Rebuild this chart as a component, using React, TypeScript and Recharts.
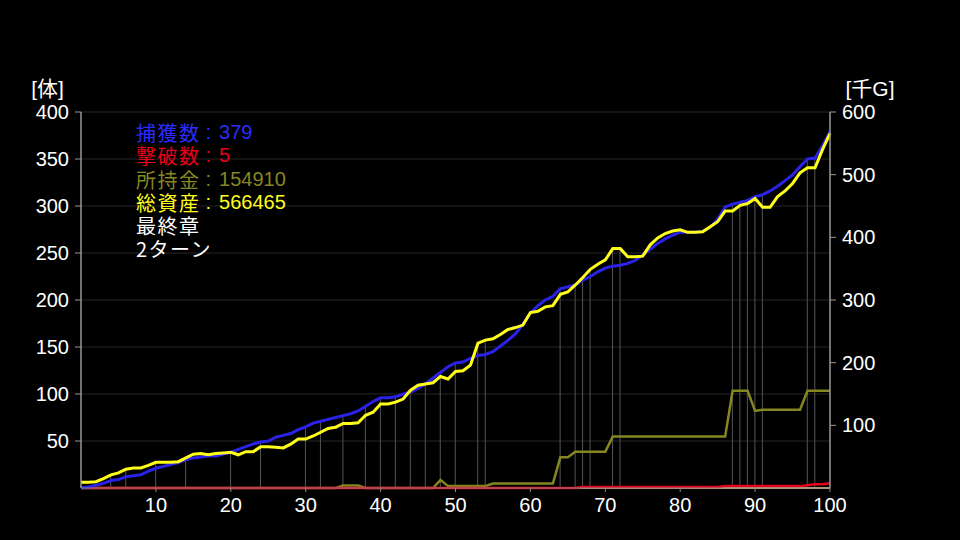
import {
  Bar,
  CartesianGrid,
  ComposedChart,
  Line,
  ReferenceLine,
  XAxis,
  YAxis,
} from "recharts";

// turn index 0..100
const turns = Array.from({ length: 101 }, (_, i) => i);

// 捕獲数 [体]
const captured = [
  0, 1, 3, 5, 8, 9, 12, 13, 14, 18, 21, 23, 25, 27, 30, 32, 33, 34, 34, 36,
  38, 41, 44, 47, 49, 50, 54, 56, 58, 62, 65, 69, 71, 73, 75, 77, 79, 82, 87,
  92, 96, 96, 97, 100, 102, 106, 111, 117, 123, 129, 133, 134, 138, 141, 142,
  145, 151, 157, 164, 174, 186, 194, 200, 204, 212, 214, 216, 221, 225, 230,
  234, 236, 237, 239, 242, 248, 254, 260, 265, 269, 272, 272, 272, 273, 277,
  286, 299, 302, 304, 306, 310, 312, 316, 321, 327, 333, 342, 350, 351, 364,
  379,
];

// 撃破数 [体]
const defeated = [
  0, 0, 0, 0, 0, 0, 0, 0, 0, 0, 0, 0, 0, 0, 0, 0, 0, 0, 0, 0, 0, 0, 0, 0, 0,
  0, 0, 0, 0, 0, 0, 0, 0, 0, 0, 0, 0, 0, 0, 0, 0, 0, 0, 0, 0, 0, 0, 0, 0, 0,
  0, 0, 0, 0, 0, 0, 0, 0, 0, 0, 0, 0, 0, 0, 0, 0, 0, 1, 1, 1, 1, 1, 1, 1, 1,
  1, 1, 1, 1, 1, 1, 1, 1, 1, 1, 1, 2, 2, 2, 2, 2, 2, 2, 2, 2, 2, 2, 3, 4, 4,
  5,
];

// 所持金 [千G]
const money = [
  0, 0, 0, 0, 0, 0, 0, 0, 0, 0, 0, 0, 0, 0, 0, 0, 0, 0, 0, 0, 0, 0, 0, 0, 0,
  0, 0, 0, 0, 0, 0, 0, 0, 0, 0, 4, 4, 4, 0, 0, 0, 0, 0, 0, 0, 0, 0, 0, 13, 3,
  3, 3, 3, 3, 3, 7, 7, 7, 7, 7, 7, 7, 7, 7, 49, 49, 58, 58, 58, 58, 58, 82, 82,
  82, 82, 82, 82, 82, 82, 82, 82, 82, 82, 82, 82, 82, 82, 155, 155, 155, 123,
  125, 125, 125, 125, 125, 125, 155, 155, 155, 155,
];

// 総資産 [千G]
const assets = [
  9, 9, 10, 15, 21, 24, 30, 32, 32, 36, 41, 41, 41, 42, 48, 54, 55, 53, 55, 56,
  57, 53, 58, 58, 66, 66, 65, 64, 70, 78, 78, 83, 89, 95, 97, 103, 103, 104,
  116, 121, 134, 134, 137, 142, 156, 164, 166, 168, 178, 174, 186, 187, 196,
  231, 236, 238, 245, 253, 256, 260, 280, 282, 289, 291, 309, 313, 324, 336,
  349, 357, 364, 382, 382, 369, 369, 370, 388, 399, 406, 410, 412, 408, 408,
  409, 417, 425, 442, 442, 451, 454, 462, 448, 448, 465, 474, 486, 503, 511,
  511, 540, 566,
];

// turns with a marker line
const events = [
  4, 6, 10, 14, 20, 24, 30, 32, 35, 38, 40, 42, 44, 46, 48, 50, 53, 54, 64, 66,
  67, 68, 71, 72, 87, 88, 89, 90, 91, 97, 98,
];

const leftTicks = [50, 100, 150, 200, 250, 300, 350, 400];
const rightTicks = [100, 200, 300, 400, 500, 600];
const xTicks = [10, 20, 30, 40, 50, 60, 70, 80, 90, 100];

const summary = [
  { label: "捕獲数", value: "379", color: "#2b2bff" },
  { label: "撃破数", value: "5", color: "#e8001a" },
  { label: "所持金", value: "154910", color: "#868622" },
  { label: "総資産", value: "566465", color: "#ffff1a" },
];
const chapter = ["最終章", "2ターン"];

const data = turns.map((t) => ({
  turn: t,
  captured: captured[t],
  defeated: defeated[t],
  money: money[t],
  assets: assets[t],
  // marker reaches the higher of the two main lines (left axis units)
  mark: events.includes(t) ? Math.max(captured[t], (assets[t] * 400) / 600) : null,
}));

const font = "'Liberation Sans', 'Noto Sans CJK JP', sans-serif";
const tickStyle = { fill: "#ffffff", fontSize: 20, fontFamily: font };
const rowStyle = { height: 23.3, lineHeight: "23.3px" };
const spanStyle = {
  display: "inline-block",
  height: 23.3,
  lineHeight: "23.3px",
  verticalAlign: "top",
};

export default function App() {
  return (
    <div
      style={{
        position: "fixed",
        left: 0,
        top: 0,
        width: 960,
        height: 540,
        background: "#000",
        fontFamily: font,
      }}
    >
      <ComposedChart
        width={960}
        height={540}
        data={data}
        margin={{ top: 112, right: 70, bottom: 22, left: 0 }}
      >
        <CartesianGrid yAxisId="left" vertical={false} stroke="#262626" />
        <XAxis
          dataKey="turn"
          type="number"
          domain={[0, 100]}
          ticks={xTicks}
          tick={tickStyle}
          tickSize={4}
          tickMargin={6}
          tickLine={{ stroke: "#888" }}
          axisLine={{ stroke: "#888" }}
          height={30}
        />
        <YAxis
          yAxisId="left"
          domain={[0, 400]}
          ticks={leftTicks}
          tick={tickStyle}
          tickSize={6}
          tickMargin={6}
          tickLine={{ stroke: "#999" }}
          axisLine={{ stroke: "#999", strokeWidth: 1.5 }}
          width={81}
          label={{
            value: "[体]",
            position: "top",
            offset: 16,
            fill: "#fff",
            fontSize: 21,
            dx: 7,
          }}
        />
        <YAxis
          yAxisId="right"
          orientation="right"
          domain={[0, 600]}
          ticks={rightTicks}
          tick={tickStyle}
          tickSize={6}
          tickMargin={6}
          tickLine={{ stroke: "#999" }}
          axisLine={{ stroke: "#999", strokeWidth: 1.5 }}
          width={60}
          label={{
            value: "[千G]",
            position: "top",
            offset: 16,
            fill: "#fff",
            fontSize: 21,
            dx: 10,
          }}
        />
        <Bar
          yAxisId="left"
          dataKey="mark"
          barSize={1}
          fill="#555"
          isAnimationActive={false}
        />
        <Line
          yAxisId="right"
          dataKey="money"
          stroke="#868622"
          strokeWidth={2.5}
          dot={false}
          isAnimationActive={false}
        />
        <ReferenceLine yAxisId="left" y={0} stroke="#c8a86e" strokeWidth={2} />
        <Line
          yAxisId="left"
          dataKey="defeated"
          stroke="#e8001a"
          strokeWidth={2.5}
          dot={false}
          isAnimationActive={false}
        />
        <Line
          yAxisId="left"
          dataKey="captured"
          stroke="#2a22e6"
          strokeWidth={3}
          dot={false}
          isAnimationActive={false}
        />
        <Line
          yAxisId="right"
          dataKey="assets"
          stroke="#ffff1a"
          strokeWidth={3}
          dot={false}
          isAnimationActive={false}
        />
      </ComposedChart>
      <div
        style={{
          position: "absolute",
          left: 136,
          top: 121,
          fontSize: 20,
          letterSpacing: 1.5,
          fontFamily: "'Noto Sans CJK JP', sans-serif",
          whiteSpace: "nowrap",
        }}
      >
        {summary.map((s) => (
          <div key={s.label} style={{ ...rowStyle, color: s.color }}>
            <span style={spanStyle}>{s.label}</span>
            <span
              style={{
                ...spanStyle,
                fontFamily: font,
                letterSpacing: 0,
                margin: "0 8px 0 5px",
              }}
            >
              :
            </span>
            <span
              style={{ ...spanStyle, fontFamily: font, letterSpacing: 0 }}
            >
              {s.value}
            </span>
          </div>
        ))}
        {chapter.map((c) => (
          <div key={c} style={{ ...rowStyle, color: "#fff" }}>
            <span style={spanStyle}>{c}</span>
          </div>
        ))}
      </div>
    </div>
  );
}
